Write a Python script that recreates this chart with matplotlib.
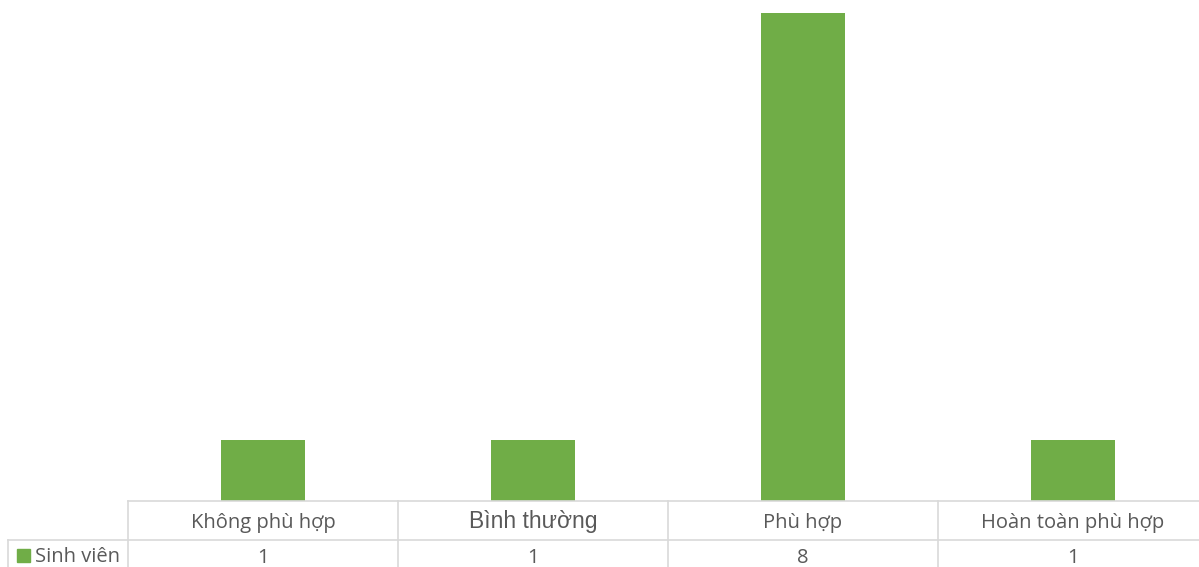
import matplotlib.pyplot as plt
from matplotlib.patches import Rectangle

categories = ['Không phù hợp', 'Bình thường', 'Phù hợp', 'Hoàn toàn phù hợp']
values = [1, 1, 8, 1]
series_name = 'Sinh viên'

GREEN = '#70AD47'
GRID = '#D9D9D9'
TXT = '#595959'

W, H = 1199, 567
fig = plt.figure(figsize=(W / 100, H / 100), dpi=100)

# plot area: x 128..1208 px, y 0..501 px from top
ax = fig.add_axes([128 / W, (H - 501) / H, 1080 / W, 501 / H])
x = range(len(categories))
ax.bar(x, values, width=0.31, color=GREEN)
ax.set_xlim(-0.5, len(categories) - 0.5)
ax.set_ylim(0, 8.21)
ax.axis('off')


# data table below the plot, in figure pixels
def fy(py):
    return (H - py) / H


def fx(px):
    return px / W


row1_top, row2_top, row2_bot = 501, 540, 580
col_edges = [128 + 270 * i for i in range(len(categories) + 1)]

line_kw = dict(color=GRID, lw=1.2, transform=fig.transFigure, clip_on=False)
fig.add_artist(plt.Line2D([fx(128), fx(col_edges[-1])], [fy(row1_top)] * 2, **line_kw))
fig.add_artist(plt.Line2D([fx(8), fx(col_edges[-1])], [fy(row2_top)] * 2, **line_kw))
fig.add_artist(plt.Line2D([fx(8), fx(8)], [fy(row2_top), fy(row2_bot)], **line_kw))
for e in col_edges:
    fig.add_artist(plt.Line2D([fx(e)] * 2, [fy(row1_top), fy(row2_bot)], **line_kw))

body = ['Open Sans', 'DejaVu Sans']
for i, (cat, val) in enumerate(zip(categories, values)):
    cx = (col_edges[i] + col_edges[i + 1]) / 2
    if cat == 'Bình thường':
        fam, fs = ['Liberation Sans'], 16.5
    else:
        fam, fs = body, 14.5
    fig.text(fx(cx), fy(528), cat, ha='center', va='baseline', fontsize=fs,
             color=TXT, family=fam)
    fig.text(fx(cx), fy(563), str(val), ha='center', va='baseline', fontsize=14.5,
             color=TXT, family=body)

fig.add_artist(Rectangle((fx(17), fy(562)), 13 / W, 13 / H, color=GREEN,
                         transform=fig.transFigure))
fig.text(fx(35), fy(562), series_name, ha='left', va='baseline', fontsize=14.5,
         color=TXT, family=body)

fig.savefig('out.png', dpi=100)
